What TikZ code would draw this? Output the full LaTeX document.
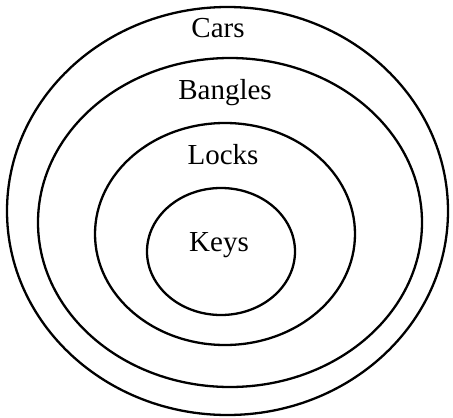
\documentclass[tikz,border=0pt]{standalone}
\usepackage{fontspec}
\setmainfont{Liberation Serif}
\begin{document}
\begin{tikzpicture}[x=1pt,y=-1pt,
  ring/.style={draw=black,line width=2.3pt},
  lbl/.style={font=\fontsize{29}{32}\selectfont,inner sep=0pt}]
\useasboundingbox (0,0) rectangle (453,418);
\draw[ring] (227.5,211) ellipse [x radius=220.5,y radius=204];
\draw[ring] (230,222.5) ellipse [x radius=192,y radius=164.5];
\draw[ring] (225,234) ellipse [x radius=130,y radius=111];
\draw[ring] (221,251.5) ellipse [x radius=74,y radius=63.5];
\node[lbl] (cars) at (218,28) {Cars};
\node[lbl] (bangles) at (225,93) {Bangles};
\node[lbl] (locks) at (223,155) {Locks};
\node[lbl] (keys) at (219,245) {Keys};
\end{tikzpicture}
\end{document}
